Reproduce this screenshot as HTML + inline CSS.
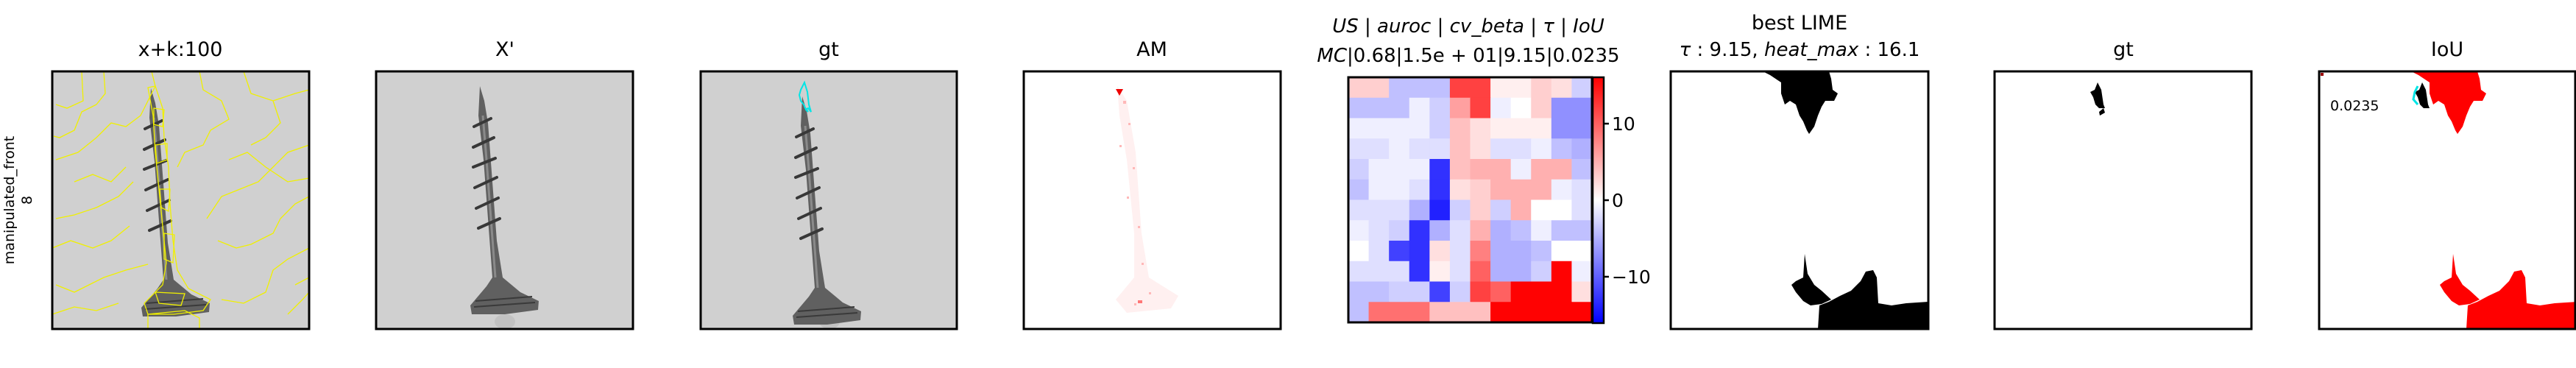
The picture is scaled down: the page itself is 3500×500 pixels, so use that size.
<!DOCTYPE html>
<html><head><meta charset="utf-8"><style>
html,body{margin:0;padding:0;background:#fff}
svg{display:block}
text{font-family:"DejaVu Sans","Liberation Sans",sans-serif;fill:#000}
</style></head><body>
<svg id="fig" width="3500" height="500" viewBox="0 0 3500 500" xmlns="http://www.w3.org/2000/svg">
<defs>
  <linearGradient id="cbar" x1="0" y1="1" x2="0" y2="0">
    <stop offset="0" stop-color="#0000ff"/><stop offset="0.5" stop-color="#ffffff"/><stop offset="1" stop-color="#ff0000"/>
  </linearGradient>
  <g id="screw">
    <path d="M141,20 L147,40 L152,70 L158,150 L164,230 L172,280 L196,300 L221,312 L220,324 L175,330 L130,330 L128,318 L150,292 L158,280 L152,200 L146,120 L139,60 Z" fill="#606060"/>
    <path d="M145,60 L150,120 L156,200 L162,280" stroke="#8a8a8a" stroke-width="3" fill="none"/>
    <g stroke="#383838" stroke-width="4" fill="none" stroke-linecap="round">
      <path d="M133,75 L156,64"/><path d="M132,103 L160,90"/><path d="M132,130 L162,118"/>
      <path d="M134,158 L164,144"/><path d="M136,186 L166,172"/><path d="M139,213 L168,200"/>
    </g>
    <g stroke="#3a3a3a" stroke-width="2" fill="none"><path d="M133,320 L216,314"/><path d="M135,312 L212,306"/></g>
  </g>
</defs>
<rect width="3500" height="500" fill="#fff"/>

<text transform="translate(19,272) rotate(-90)" text-anchor="middle" font-size="19">manipulated_front</text>
<text transform="translate(43,272) rotate(-90)" text-anchor="middle" font-size="19">8</text>

<text x="245" y="76" text-anchor="middle" font-size="27">x+k:100</text>
<g transform="translate(71,97)">
  <rect width="349" height="350" fill="#d0d0d0"/>
  <use href="#screw" transform="translate(-7,3)"/>
  <g stroke="#f0f000" stroke-width="1.3" fill="none">
    <path d="M40,0 L42,40 L20,50 L5,45 M70,0 L72,30 L60,45 L40,55 L30,80 L10,90 L2,88"/>
    <path d="M135,0 L140,20 L130,40 L120,60 L100,75 L80,70 L60,90 L35,110 L5,120"/>
    <path d="M200,0 L205,25 L230,40 L240,65 L215,80 L205,100 L180,110 L170,130"/>
    <path d="M260,0 L270,30 L300,40 L330,30 L349,25 M300,40 L310,70 L290,90 L270,100"/>
    <path d="M349,100 L320,110 L300,130 L280,150 L255,160 L230,170 L210,200"/>
    <path d="M5,200 L30,195 L60,185 L90,170 L110,150 M0,240 L25,230 L55,240 L80,230 L105,210"/>
    <path d="M349,170 L330,180 L310,200 L300,220 L270,235 L250,240 L225,230"/>
    <path d="M5,290 L30,300 L50,290 L70,280 L100,270 L130,262 M0,330 L30,320 L60,325 L90,315"/>
    <path d="M349,240 L320,255 L300,270 L290,300 L260,315 L230,310 M320,330 L340,310 L349,300"/>
    <path d="M130,350 L130,330 L180,325 L200,335 L200,350 M30,150 L55,140 L80,150 L100,130"/>
    <path d="M240,120 L265,110 L290,130 L320,150 L349,145 M349,280 L330,290"/>
  </g>
  <g stroke="#f0f000" stroke-width="1.3" fill="none">
    <path d="M130,22 L140,20 L150,50 L152,90 L158,130 L160,180 L164,230 L170,270 L185,295 L215,310 L205,325 L165,330 L130,330 L125,315 L150,290 L155,260 L150,210 L145,160 L140,110 L137,60 Z"/>
    <path d="M138,50 L152,52 L150,75 L138,72 Z M140,100 L156,98 L156,120 L142,125 Z M146,160 L160,160 L158,190 L148,185 Z M152,220 L166,222 L164,260 L152,255 Z M140,300 L180,302 L175,318 L145,315 Z"/>
  </g>
  <rect width="349" height="350" fill="none" stroke="#000" stroke-width="3"/>
</g>

<text x="686" y="76" text-anchor="middle" font-size="27">X'</text>
<g transform="translate(511,97)">
  <rect width="349" height="350" fill="#d0d0d0"/>
  <ellipse cx="175" cy="340" rx="14" ry="10" fill="#c2c2c2"/>
  <use href="#screw"/>
  <rect width="349" height="350" fill="none" stroke="#000" stroke-width="3"/>
</g>

<text x="1126" y="76" text-anchor="middle" font-size="27">gt</text>
<g transform="translate(952,97)">
  <rect width="348" height="350" fill="#d0d0d0"/>
  <ellipse cx="175" cy="340" rx="14" ry="10" fill="#c2c2c2"/>
  <use href="#screw" transform="translate(-3,14)"/>
  <path d="M136,25 L141,15 L145,28 L147,45 L150,55 L146,50 L143,52 L140,45 L136,40 L134,32 Z M141,48 L146,55 L143,52" stroke="#00e5e5" stroke-width="2" fill="none"/>
  <rect width="348" height="350" fill="none" stroke="#000" stroke-width="3"/>
</g>

<text x="1565" y="76" text-anchor="middle" font-size="27">AM</text>
<g transform="translate(1391,97)">
  <rect width="349" height="350" fill="#fff"/>
  <path d="M127,20 L140,40 L152,110 L160,220 L170,280 L210,305 L200,322 L140,328 L125,310 L150,280 L150,220 L140,120 L130,60 Z" fill="#fff0f0"/>
  <g fill="#ffb8b8">
    <rect x="135" y="40" width="4" height="4"/><rect x="142" y="70" width="3" height="3"/><rect x="130" y="100" width="3" height="3"/>
    <rect x="148" y="130" width="3" height="3"/><rect x="140" y="170" width="3" height="3"/><rect x="155" y="210" width="3" height="3"/>
    <rect x="160" y="260" width="3" height="3"/><rect x="170" y="300" width="3" height="3"/><rect x="150" y="315" width="3" height="3"/>
  </g>
  <path d="M125,24 L135,24 L130,33 Z" fill="#e00"/>
  <rect x="155" y="311" width="6" height="4" fill="#f77"/>
  <rect width="349" height="350" fill="none" stroke="#000" stroke-width="3"/>
</g>

<text x="1995" y="44" text-anchor="middle" font-size="26" font-style="italic">US | auroc | cv_beta | τ | IoU</text>
<text x="1995" y="84" text-anchor="middle" font-size="26"><tspan font-style="italic">MC</tspan>|0.68|1.5e + 01|9.15|0.0235</text>
<g id="heatmap"></g>
<g>
  <rect x="2164" y="105" width="15" height="334" fill="url(#cbar)" stroke="#000" stroke-width="2.5"/>
</g>
<g id="cbticks"></g>

<text x="2445" y="40" text-anchor="middle" font-size="27">best LIME</text>
<text x="2445" y="76" text-anchor="middle" font-size="26"><tspan font-style="italic">τ</tspan> : 9.15, <tspan font-style="italic">heat_max</tspan> : 16.1</text>
<g transform="translate(2270,97)">
  <rect width="350" height="350" fill="#fff"/>
  <g fill="#000" id="limeShapes">
    <path d="M125,0 L215,0 L218,10 L220,25 L227,30 L222,40 L210,40 L205,48 L200,60 L195,75 L188,85 L185,80 L180,68 L175,60 L170,45 L162,40 L155,45 L150,30 L150,15 L135,5 Z"/>
    <path d="M182,248 L186,275 L195,290 L205,298 L218,310 L205,316 L190,318 L180,312 L170,300 L164,290 L170,285 L180,280 Z"/>
    <path d="M200,350 L202,318 L215,313 L230,305 L245,298 L258,285 L265,272 L275,270 L280,280 L282,315 L300,318 L320,315 L350,313 L350,350 Z"/>
  </g>
  <rect width="350" height="350" fill="none" stroke="#000" stroke-width="3"/>
</g>

<text x="2885" y="76" text-anchor="middle" font-size="27">gt</text>
<g transform="translate(2710,97)">
  <rect width="349" height="350" fill="#fff"/>
  <path d="M140,15 L145,25 L148,45 L150,50 L142,50 L137,45 L134,35 L130,28 L136,25 Z M142,55 L148,50 L150,56 L143,60 Z" fill="#000"/>
  <rect width="349" height="350" fill="none" stroke="#000" stroke-width="3"/>
</g>

<text x="3325" y="76" text-anchor="middle" font-size="27">IoU</text>
<g transform="translate(3151,97)">
  <rect width="348" height="350" fill="#fff"/>
  <g fill="#ff0000">
    <path d="M125,0 L215,0 L218,10 L220,25 L227,30 L222,40 L210,40 L205,48 L200,60 L195,75 L188,85 L185,80 L180,68 L175,60 L170,45 L162,40 L155,45 L150,30 L150,15 L135,5 Z"/>
    <path d="M182,248 L186,275 L195,290 L205,298 L218,310 L205,316 L190,318 L180,312 L170,300 L164,290 L170,285 L180,280 Z"/>
    <path d="M200,350 L202,318 L215,313 L230,305 L245,298 L258,285 L265,272 L275,270 L280,280 L282,315 L300,318 L320,315 L350,313 L350,350 Z"/>
  </g>
  <path d="M140,15 L145,25 L148,45 L150,50 L142,50 L137,45 L134,35 L130,28 L136,25 Z" fill="#000"/>
  <path d="M134,20 L130,28 L128,38 L134,45" stroke="#00e5e5" stroke-width="3" fill="none"/>
  <rect x="2" y="2" width="4" height="4" fill="#900"/>
  <text x="15" y="53" font-size="19">0.0235</text>
  <rect width="348" height="350" fill="none" stroke="#000" stroke-width="3"/>
</g>
</svg>
<script>
const heatRows = [
  [3,3,-4,-4,-4,12,12,1,1,3,2,-3],
  [-4,-4,-4,-1,-3,6,12,-1,0,3,-7,-7],
  [-1,-1,-1,-1,-3,4,2,1,1,1,-7,-7],
  [-2,-2,-1,-2,-2,4,2,-2,-2,-1,-4,-5],
  [-3,-1,-1,-1,-13,4,5,5,-1,5,5,-4],
  [-4,-1,-1,-2,-13,2,3,5,5,5,-1,-2],
  [-2,-2,-2,-5,-14,-3,3,-3,5,0,0,-2],
  [-1,-2,-3,-13,-5,-2,5,-5,-4,-1,-4,-4],
  [0,-2,-12,-13,2,-2,8,-5,-5,-4,0,0],
  [-2,-2,-2,-13,1,-2,10,-5,-5,-3,16,-1],
  [-4,-4,-3,-3,-12,-3,12,10,16,16,16,2],
  [-4,9,9,9,4,4,4,16,16,16,16,16]
];
const vmax = 16.1;
const cbTickValues = [10, 0, -10];
const cbTickLabels = ["10", "0", "\u221210"];

const NS = "http://www.w3.org/2000/svg";
const hx0 = 1832, hy0 = 105, hw = 331, hh = 333;
const nR = heatRows.length, nC = heatRows[0].length;
function colX(c){ return hx0 + c * hw / nC; }
function rowY(r){ return hy0 + r * hh / nR; }
function valToColor(v){
  const t = Math.max(-1, Math.min(1, v / vmax));
  let r, g, b;
  if (t < 0){ r = g = Math.round(255 * (1 + t)); b = 255; }
  else { r = 255; g = b = Math.round(255 * (1 - t)); }
  return `rgb(${r},${g},${b})`;
}
function cbY(v){ return hy0 + 167 - v * 10.4; }
const hm = document.getElementById("heatmap");
heatRows.forEach((row, r) => {
  row.forEach((v, c) => {
    const el = document.createElementNS(NS, "rect");
    el.setAttribute("x", colX(c));
    el.setAttribute("y", rowY(r));
    el.setAttribute("width", hw / nC + 0.6);
    el.setAttribute("height", hh / nR + 0.6);
    el.setAttribute("fill", valToColor(v));
    
    
    hm.appendChild(el);
  });
});
const border = document.createElementNS(NS, "rect");
border.setAttribute("x", hx0); border.setAttribute("y", hy0);
border.setAttribute("width", hw); border.setAttribute("height", hh);
border.setAttribute("fill", "none"); border.setAttribute("stroke", "#000"); border.setAttribute("stroke-width", "3");


hm.appendChild(border);

const tk = document.getElementById("cbticks");
cbTickValues.forEach((v, i) => {
  const y = cbY(v);
  const ln = document.createElementNS(NS, "line");
  ln.setAttribute("x1", 2179); ln.setAttribute("x2", 2186);
  ln.setAttribute("y1", y); ln.setAttribute("y2", y);
  ln.setAttribute("stroke", "#000"); ln.setAttribute("stroke-width", "2.5");
  
  
  tk.appendChild(ln);
  const tx = document.createElementNS(NS, "text");
  tx.setAttribute("x", 2190); tx.setAttribute("y", y + 9);
  tx.setAttribute("font-size", "25");
  tx.textContent = cbTickLabels[i];
  
  
  tk.appendChild(tx);
});
</script>
</body></html>
